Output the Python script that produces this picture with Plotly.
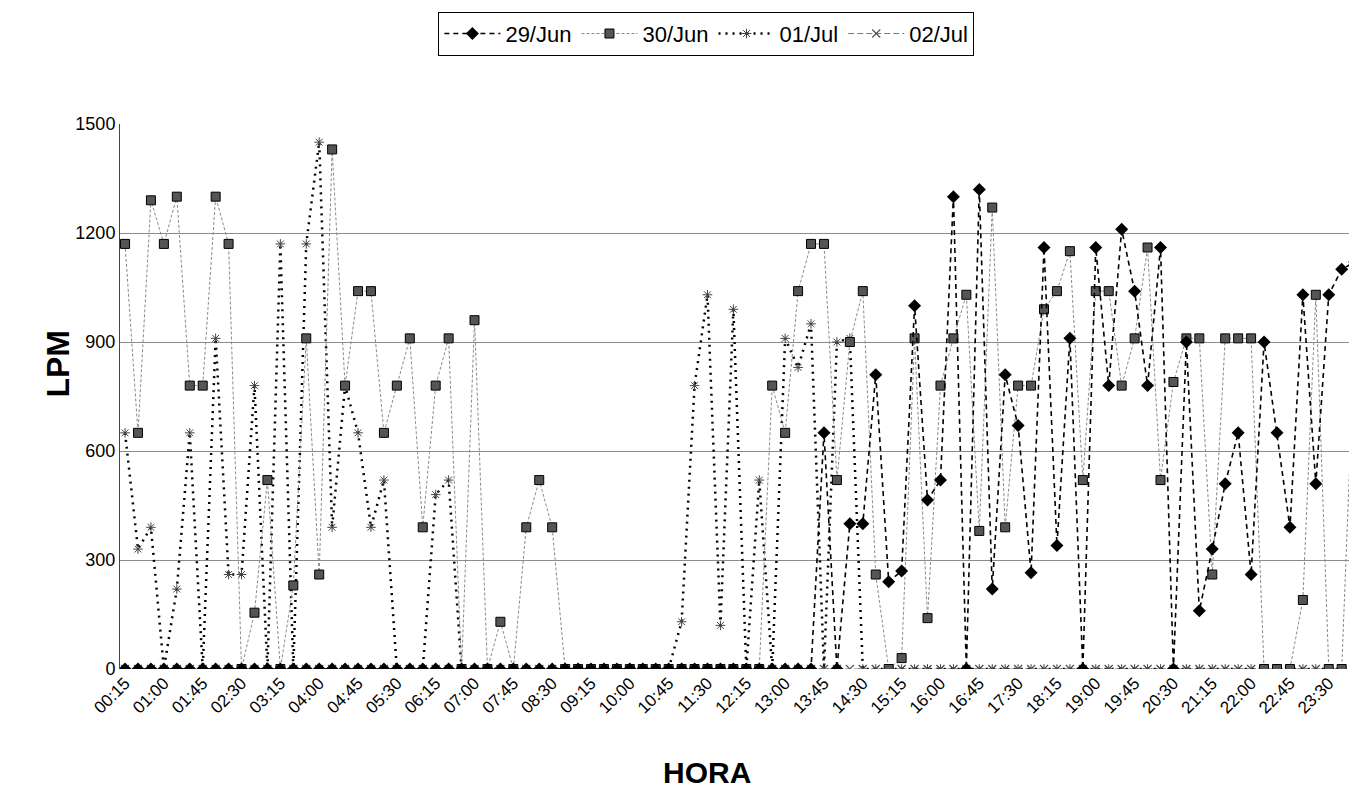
import plotly.graph_objects as go

# categorias: hora cada 15 min (00:15 ... 24:00)
horas = [
    "00:15", "00:30", "00:45", "01:00", "01:15", "01:30", "01:45", "02:00", "02:15", "02:30", "02:45", "03:00",
    "03:15", "03:30", "03:45", "04:00", "04:15", "04:30", "04:45", "05:00", "05:15", "05:30", "05:45", "06:00",
    "06:15", "06:30", "06:45", "07:00", "07:15", "07:30", "07:45", "08:00", "08:15", "08:30", "08:45", "09:00",
    "09:15", "09:30", "09:45", "10:00", "10:15", "10:30", "10:45", "11:00", "11:15", "11:30", "11:45", "12:00",
    "12:15", "12:30", "12:45", "13:00", "13:15", "13:30", "13:45", "14:00", "14:15", "14:30", "14:45", "15:00",
    "15:15", "15:30", "15:45", "16:00", "16:15", "16:30", "16:45", "17:00", "17:15", "17:30", "17:45", "18:00",
    "18:15", "18:30", "18:45", "19:00", "19:15", "19:30", "19:45", "20:00", "20:15", "20:30", "20:45", "21:00",
    "21:15", "21:30", "21:45", "22:00", "22:15", "22:30", "22:45", "23:00", "23:15", "23:30", "23:45", "00:00",
]

# etiquetas visibles en el eje x (una de cada tres)
etiquetas = horas[0:94:3]

jun29 = [
    0, 0, 0, 0, 0, 0, 0, 0, 0, 0, 0, 0,
    0, 0, 0, 0, 0, 0, 0, 0, 0, 0, 0, 0,
    0, 0, 0, 0, 0, 0, 0, 0, 0, 0, 0, 0,
    0, 0, 0, 0, 0, 0, 0, 0, 0, 0, 0, 0,
    0, 0, 0, 0, 0, 0, 650, 0, 400, 400, 810, 240,
    270, 1000, 465, 520, 1300, 0, 1320, 220, 810, 670, 265, 1160,
    340, 910, 0, 1160, 780, 1210, 1040, 780, 1160, 0, 900, 160,
    330, 510, 650, 260, 900, 650, 390, 1030, 510, 1030, 1100, 1120,
]

jun30 = [
    1170, 650, 1290, 1170, 1300, 780, 780, 1300, 1170, 0, 155, 520,
    0, 230, 910, 260, 1430, 780, 1040, 1040, 650, 780, 910, 390,
    780, 910, 0, 960, 0, 130, 0, 390, 520, 390, 0, 0,
    0, 0, 0, 0, 0, 0, 0, 0, 0, 0, 0, 0,
    0, 0, 780, 650, 1040, 1170, 1170, 520, 900, 1040, 260, 0,
    30, 910, 140, 780, 910, 1030, 380, 1270, 390, 780, 780, 990,
    1040, 1150, 520, 1040, 1040, 780, 910, 1160, 520, 790, 910, 910,
    260, 910, 910, 910, 0, 0, 0, 190, 1030, 0, 0, 910,
]

jul01 = [
    650, 330, 390, 0, 220, 650, 0, 910, 260, 260, 780, 0,
    1170, 0, 1170, 1450, 390, 780, 650, 390, 520, 0, 0, 0,
    480, 520, 0, 0, 0, 0, 0, 0, 0, 0, 0, 0,
    0, 0, 0, 0, 0, 0, 0, 130, 780, 1030, 120, 990,
    0, 520, 0, 910, 830, 950, 0, 900, 910, 0, 0, 0,
    0, 0, 0, 0, 0, 0, 0, 0, 0, 0, 0, 0,
    0, 0, 0, 0, 0, 0, 0, 0, 0, 0, 0, 0,
    0, 0, 0, 0, 0, 0, 0, 0, 0, 0, 0, 0,
]

jul02 = [0] * 96

FONT = "Arial, Liberation Sans, sans-serif"

fig = go.Figure()

# 02/Jul primero para que quede debajo
fig.add_trace(go.Scatter(
    x=horas, y=jul02, mode="lines+markers", name="02/Jul",
    line=dict(color="#777777", width=1, dash="6px,3px"),
    marker=dict(symbol="x-thin", size=8, line=dict(color="#555555", width=1.2)),
))
fig.add_trace(go.Scatter(
    x=horas, y=jul01, mode="lines+markers", name="01/Jul",
    line=dict(color="black", width=2.5, dash="2px,5px"),
    marker=dict(symbol="asterisk", size=8, line=dict(color="#444444", width=1)),
))
fig.add_trace(go.Scatter(
    x=horas, y=jun30, mode="lines+markers", name="30/Jun",
    line=dict(color="#8a8a8a", width=1, dash="3px,2px"),
    marker=dict(symbol="square", size=9, color="#555555", line=dict(color="black", width=1)),
))
fig.add_trace(go.Scatter(
    x=horas, y=jun29, mode="lines+markers", name="29/Jun",
    line=dict(color="black", width=1.6, dash="5px,4px"),
    marker=dict(symbol="diamond", size=10, color="black"),
))

fig.update_layout(
    width=1357, height=801,
    margin=dict(l=112, r=0, t=116, b=140, autoexpand=False),
    paper_bgcolor="white", plot_bgcolor="white",
    font=dict(family=FONT, color="black"),
    showlegend=True,
    legend=dict(
        orientation="h", traceorder="reversed",
        x=0.471, xanchor="center", y=1.206, yanchor="top",
        bordercolor="black", borderwidth=1,
        font=dict(size=22, family=FONT),
        itemwidth=56,
    ),
    xaxis=dict(
        type="category", categoryorder="array", categoryarray=horas,
        range=[-0.39, 95.8],
        tickmode="array", tickvals=etiquetas, ticktext=etiquetas,
        tickangle=-45, tickfont=dict(size=17),
        showgrid=False, showline=False, ticks="",
    ),
    yaxis=dict(
        range=[0, 1500], tickvals=[0, 300, 600, 900, 1200, 1500],
        tickfont=dict(size=18),
        showgrid=True, gridcolor="#8c8c8c", gridwidth=1,
        showline=True, linecolor="#444444", linewidth=1,
        zeroline=False, ticks="",
    ),
    annotations=[
        dict(text="<b>LPM</b>", xref="paper", yref="paper",
             x=-0.05, y=0.56, xanchor="center", yanchor="middle",
             textangle=-90, showarrow=False, font=dict(size=32, family=FONT)),
        dict(text="<b>HORA</b>", xref="paper", yref="paper",
             x=0.4715, y=-0.156, xanchor="center", yanchor="top",
             showarrow=False, font=dict(size=30, family=FONT)),
    ],
)

fig.write_html("out.html")
